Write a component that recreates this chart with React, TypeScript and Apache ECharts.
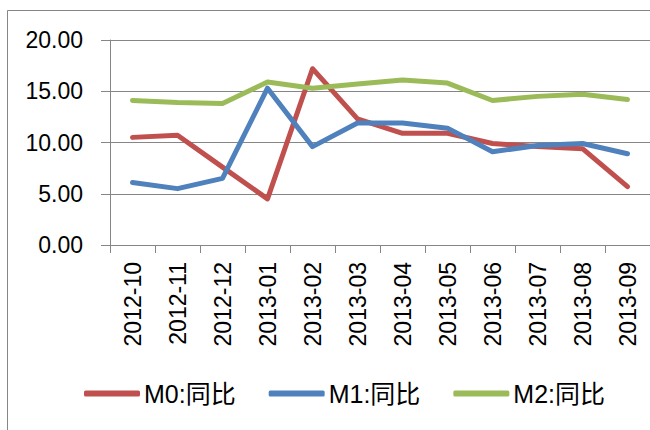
import React, { useEffect, useRef } from "react";
import * as echarts from "echarts";

const categories = [
  "2012-10", "2012-11", "2012-12", "2013-01", "2013-02", "2013-03",
  "2013-04", "2013-05", "2013-06", "2013-07", "2013-08", "2013-09",
];
const m0Values = [10.5, 10.7, 7.6, 4.5, 17.2, 12.3, 10.9, 10.9, 9.9, 9.6, 9.4, 5.7];
const m1Values = [6.1, 5.5, 6.5, 15.3, 9.6, 11.9, 11.9, 11.4, 9.1, 9.7, 9.9, 8.9];
const m2Values = [14.1, 13.9, 13.8, 15.9, 15.3, 15.7, 16.1, 15.8, 14.1, 14.5, 14.7, 14.2];
const seriesNames = ["M0:同比", "M1:同比", "M2:同比"];
const colors = ["#C0504D", "#4F81BD", "#9BBB59"];

const FONT = "'Liberation Sans', 'Noto Sans CJK SC', sans-serif";
const GRAY = "#868686";

export default function App() {
  const ref = useRef<HTMLDivElement>(null);
  useEffect(() => {
    document.body.style.margin = "0";
    if (!ref.current) return;
    const chart = echarts.init(ref.current, null, { renderer: "svg" });
    const data = [m0Values, m1Values, m2Values];
    chart.setOption({
      animation: false,
      backgroundColor: "#ffffff",
      textStyle: { fontFamily: FONT },
      graphic: [
        {
          type: "rect",
          shape: { x: 7.5, y: 10.5, width: 720, height: 500 },
          style: { fill: "none", stroke: GRAY, lineWidth: 1 },
          silent: true,
        },
      ],
      grid: { left: 110, right: 0, top: 40, bottom: 185, containLabel: false },
      legend: {
        left: 79,
        top: 376,
        itemWidth: 56,
        itemHeight: 6,
        itemGap: 33,
        icon: "roundRect",
        textStyle: { fontFamily: FONT, fontSize: 25, color: "#000", padding: [0, 0, 0, -1] },
        data: seriesNames,
      },
      xAxis: {
        type: "category",
        data: categories,
        boundaryGap: true,
        axisLine: { show: true, lineStyle: { color: GRAY, width: 1 } },
        axisTick: { show: true, length: 8, alignWithLabel: false, lineStyle: { color: GRAY } },
        axisLabel: {
          rotate: 90,
          margin: 17,
          interval: 0,
          fontFamily: FONT,
          fontSize: 23,
          color: "#000",
        },
        splitLine: { show: false },
      },
      yAxis: {
        type: "value",
        min: 0,
        max: 20,
        interval: 5,
        axisLine: { show: true, lineStyle: { color: GRAY, width: 1 } },
        axisTick: { show: true, length: 9, lineStyle: { color: GRAY } },
        axisLabel: {
          margin: 27,
          fontFamily: FONT,
          fontSize: 23,
          color: "#000",
          formatter: (v: number) => v.toFixed(2),
        },
        splitLine: { show: true, lineStyle: { color: GRAY, width: 1 } },
      },
      series: seriesNames.map((name, i) => ({
        name,
        type: "line",
        data: data[i],
        symbol: "none",
        showSymbol: false,
        color: colors[i],
        lineStyle: { color: colors[i], width: 5, cap: "round", join: "round" },
        itemStyle: { color: colors[i] },
      })),
    });
    return () => chart.dispose();
  }, []);
  return <div ref={ref} style={{ width: 650, height: 430 }} />;
}
